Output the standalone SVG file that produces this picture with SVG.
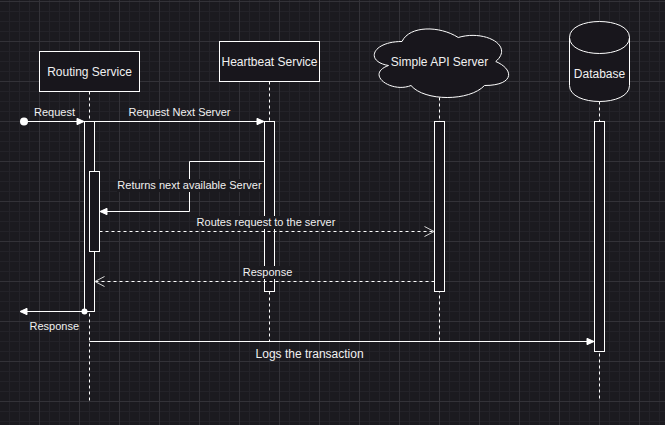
<svg xmlns="http://www.w3.org/2000/svg" width="665" height="425" viewBox="0 0 665 425">
  <style>
    .bg { fill: #1b1a1f; }
    .node { fill: #18161c; stroke: #ffffff; stroke-width: 1; }
    .life { fill: none; stroke: #ffffff; stroke-width: 1; stroke-dasharray: 3 3; }
    .msg { fill: none; stroke: #ffffff; stroke-width: 1; }
    .dash { fill: none; stroke: #ffffff; stroke-width: 1; stroke-dasharray: 3 3; }
    .head { fill: #ffffff; stroke: #ffffff; stroke-width: 1; }
    .open { fill: none; stroke: #d8d8d8; stroke-width: 1; }
    .lbl { fill: #f0f0f0; font-family: "Liberation Sans", Arial, Helvetica, sans-serif; font-size: 11px; text-anchor: middle; }
    .title { fill: #f0f0f0; font-family: "Liberation Sans", Arial, Helvetica, sans-serif; font-size: 12px; text-anchor: middle; }
    .lblbg { fill: #1b1a1f; }
  </style>
  <defs>
    <pattern id="grid" x="39" y="1" width="40" height="40" patternUnits="userSpaceOnUse">
      <rect x="10" y="0" width="1" height="40" fill="#232228"/>
      <rect x="20" y="0" width="1" height="40" fill="#232228"/>
      <rect x="30" y="0" width="1" height="40" fill="#232228"/>
      <rect x="0" y="10" width="40" height="1" fill="#232228"/>
      <rect x="0" y="20" width="40" height="1" fill="#232228"/>
      <rect x="0" y="30" width="40" height="1" fill="#232228"/>
      <rect x="0" y="0" width="1" height="40" fill="#333238"/>
      <rect x="0" y="0" width="40" height="1" fill="#333238"/>
    </pattern>
  </defs>

  <rect class="bg" x="0" y="0" width="665" height="425"/>
  <rect x="0" y="0" width="665" height="425" fill="url(#grid)"/>

  <g id="lifelines">
    <line class="life" x1="89.5" y1="91.5" x2="89.5" y2="401"/>
    <line class="life" x1="269.5" y1="81.5" x2="269.5" y2="341"/>
    <line class="life" x1="439.5" y1="97.5" x2="439.5" y2="341"/>
    <line class="life" x1="599.5" y1="101.5" x2="599.5" y2="401"/>
  </g>

  <g id="routing-service">
    <rect class="node" x="39.5" y="51.5" width="100" height="40"/>
    <text class="title" x="89.5" y="75.5">Routing Service</text>
    <rect class="node" x="84.5" y="121.5" width="10" height="190"/>
    <rect class="node" x="89.5" y="171.5" width="10" height="80"/>
  </g>

  <g id="heartbeat-service">
    <rect class="node" x="219.5" y="41.5" width="100" height="40"/>
    <text class="title" x="269.5" y="65.5">Heartbeat Service</text>
    <rect class="node" x="264.5" y="121.5" width="10" height="170"/>
  </g>

  <g id="simple-api-server">
    <path class="node" d="M402,41.5 C372,41.5 364.5,61.5 388.5,65.5 C364.5,74.3 391.5,93.5 411,85.5 C424.5,101.5 469.5,101.5 484.5,85.5 C514.5,85.5 514.5,69.5 495.75,61.5 C514.5,45.5 484.5,29.5 458.25,37.5 C439.5,25.5 409.5,25.5 402,41.5 Z"/>
    <text class="title" x="439.5" y="65.5">Simple API Server</text>
    <rect class="node" x="434.5" y="121.5" width="10" height="170"/>
  </g>

  <g id="database">
    <path class="node" d="M569.5,37.5 C569.5,16.17 629.5,16.17 629.5,37.5 L629.5,85.5 C629.5,106.83 569.5,106.83 569.5,85.5 Z"/>
    <path class="msg" d="M569.5,37.5 C569.5,58.83 629.5,58.83 629.5,37.5"/>
    <text class="title" x="599.5" y="77.5">Database</text>
    <rect class="node" x="594.5" y="121.5" width="10" height="230"/>
  </g>

  <g id="connectors">
    <!-- Request -->
    <line class="msg" x1="24" y1="121.5" x2="78" y2="121.5"/>
    <circle cx="24" cy="121.5" r="4" fill="#ffffff"/>
    <polygon class="head" points="84,121.5 77,118.3 77,124.7"/>
    <text class="lbl" x="54.5" y="116">Request</text>

    <!-- Request Next Server -->
    <line class="msg" x1="94.5" y1="121.5" x2="258" y2="121.5"/>
    <polygon class="head" points="264,121.5 257,118.3 257,124.7"/>
    <text class="lbl" x="179.5" y="116">Request Next Server</text>

    <!-- Returns next available Server -->
    <polyline class="msg" points="264.5,161.5 189.5,161.5 189.5,211.5 106,211.5"/>
    <polygon class="head" points="100,211.5 107,208.3 107,214.7"/>
    <rect class="lblbg" x="117" y="179" width="145" height="13"/>
    <text class="lbl" x="189.5" y="189">Returns next available Server</text>

    <!-- Routes request to the server -->
    <line class="dash" x1="99.5" y1="231.5" x2="433" y2="231.5"/>
    <polyline class="open" points="424.5,226.5 434,231.5 424.5,236.5"/>
    <rect class="lblbg" x="196" y="216" width="140" height="13"/>
    <text class="lbl" x="266" y="226">Routes request to the server</text>

    <!-- Response (from API) -->
    <line class="dash" x1="434.5" y1="281.5" x2="96" y2="281.5"/>
    <polyline class="open" points="104.5,276.5 95,281.5 104.5,286.5"/>
    <rect class="lblbg" x="242.5" y="266" width="50" height="13"/>
    <text class="lbl" x="267.5" y="276">Response</text>

    <!-- Response (out) -->
    <line class="msg" x1="84.5" y1="311.5" x2="26" y2="311.5"/>
    <polygon class="head" points="20,311.5 27,308.3 27,314.7"/>
    <circle cx="84.5" cy="311.5" r="3" fill="#ffffff"/>
    <text class="lbl" x="54.3" y="329.5">Response</text>

    <!-- Logs the transaction -->
    <line class="msg" x1="89.5" y1="341.5" x2="588" y2="341.5"/>
    <polygon class="head" points="594,341.5 587,338.3 587,344.7"/>
    <text class="title" x="309.6" y="357.5">Logs the transaction</text>
  </g>
</svg>
